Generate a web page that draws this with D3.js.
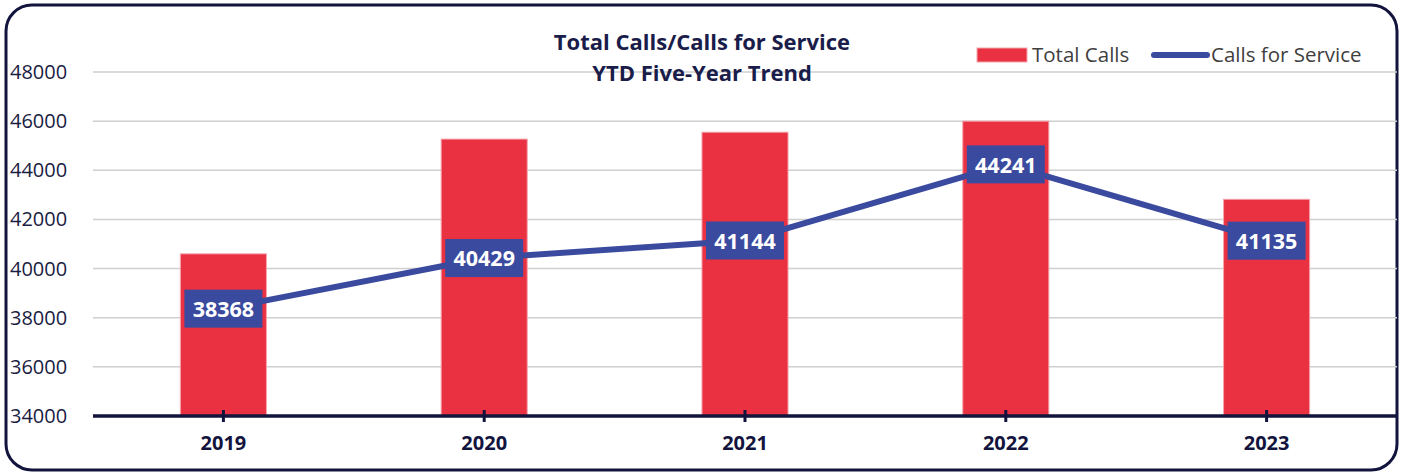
<!DOCTYPE html>
<html>
<head>
<meta charset="utf-8">
<script src="https://cdn.jsdelivr.net/npm/d3@7"></script>
<style>
    body { margin: 0; background: #fff; }
    svg { display: block; }
</style>
</head>
<body>
<div id="chart"></div>
<script>
// chart data
const years = ["2019", "2020", "2021", "2022", "2023"];
const totalCalls = [40600, 45270, 45550, 46000, 42820];
const callsForService = [38368, 40429, 41144, 44241, 41135];
const yTicks = [34000, 36000, 38000, 40000, 42000, 44000, 46000, 48000];

const width = 1403, height = 474;
const navy = "#12143d";
const red = "#e93142";
const blue = "#3a4a9e";

const svg = d3.select("#chart")
    .append("svg")
    .attr("width", width)
    .attr("height", height);

// frame
svg.append("rect")
    .attr("x", 6)
    .attr("y", 5)
    .attr("width", 1391)
    .attr("height", 465)
    .attr("rx", 26)
    .attr("fill", "#fff")
    .attr("stroke", navy)
    .attr("stroke-width", 3);

const x = d3.scaleBand()
    .domain(years)
    .range([93, 1397])
    .paddingInner(0.67)
    .paddingOuter(0.335);

const y = d3.scaleLinear()
    .domain([34000, 48000])
    .range([416, 72]);

// gridlines
svg.append("g")
    .selectAll("line")
    .data(yTicks.slice(1))
    .join("line")
    .attr("x1", 93)
    .attr("x2", 1397)
    .attr("y1", d => y(d))
    .attr("y2", d => y(d))
    .attr("stroke", "#cfcfcf")
    .attr("stroke-width", 1.5);

// y labels
svg.append("g")
    .selectAll("text")
    .data(yTicks)
    .join("text")
    .attr("x", 10)
    .attr("y", d => y(d))
    .attr("dy", "0.35em")
    .style("font-family", "Open Sans")
    .style("font-size", "20px")
    .style("fill", "#1a1c42")
    .text(d => d);

// bars
svg.append("g")
    .selectAll("rect")
    .data(totalCalls)
    .join("rect")
    .attr("x", (d, i) => x(years[i]))
    .attr("width", x.bandwidth())
    .attr("y", d => y(d))
    .attr("height", d => y(34000) - y(d))
    .attr("fill", red)
    .attr("stroke", "#f4a5ad")
    .attr("stroke-width", 1);

// x axis
const xAxis = d3.axisBottom(x).tickSize(0).tickPadding(20);
const gx = svg.append("g")
    .attr("transform", `translate(0,${y(34000)})`)
    .call(xAxis);
gx.select(".domain")
    .attr("d", "M93,0H1397")
    .attr("stroke", navy)
    .attr("stroke-width", 3.5);
gx.selectAll(".tick text")
    .style("font-family", "Open Sans")
    .style("font-size", "20px")
    .style("font-weight", "bold")
    .style("fill", navy);
gx.selectAll(".tick")
    .append("line")
    .attr("y1", -6)
    .attr("y2", 6)
    .attr("stroke", navy)
    .attr("stroke-width", 3);

// line
const cx = d => x(d) + x.bandwidth() / 2;
const line = d3.line()
    .x((d, i) => cx(years[i]))
    .y(d => y(d));

svg.append("path")
    .datum(callsForService)
    .attr("d", line)
    .attr("fill", "none")
    .attr("stroke", blue)
    .attr("stroke-width", 6)
    .attr("stroke-linejoin", "round");

// value labels
const labels = svg.append("g")
    .selectAll("g")
    .data(callsForService)
    .join("g")
    .attr("transform", (d, i) => `translate(${cx(years[i])},${y(d)})`);
labels.append("rect")
    .attr("x", -39)
    .attr("y", -19)
    .attr("width", 78)
    .attr("height", 38)
    .attr("fill", blue);
labels.append("text")
    .attr("text-anchor", "middle")
    .attr("dy", "0.38em")
    .style("font-family", "Open Sans")
    .style("font-size", "21.5px")
    .style("font-weight", "bold")
    .style("fill", "#fff")
    .text(d => d);

// title
const title = svg.append("text")
    .attr("text-anchor", "middle")
    .style("font-family", "Open Sans")
    .style("font-size", "22px")
    .style("font-weight", "bold")
    .style("fill", "#1a1c4a");
title.append("tspan").attr("x", 702).attr("y", 50).text("Total Calls/Calls for Service");
title.append("tspan").attr("x", 702).attr("y", 81).text("YTD Five-Year Trend");

// legend
const legend = svg.append("g");
legend.append("rect")
    .attr("x", 977)
    .attr("y", 48)
    .attr("width", 50)
    .attr("height", 14)
    .attr("fill", red)
    .attr("stroke", "#f4a5ad");
legend.append("text")
    .attr("x", 1032)
    .attr("y", 55)
    .attr("dy", "0.35em")
    .style("font-family", "Open Sans")
    .style("font-size", "20.5px")
    .style("fill", "#404040")
    .text("Total Calls");
legend.append("line")
    .attr("x1", 1154)
    .attr("x2", 1207)
    .attr("y1", 55)
    .attr("y2", 55)
    .attr("stroke", blue)
    .attr("stroke-width", 6)
    .attr("stroke-linecap", "round");
legend.append("text")
    .attr("x", 1211)
    .attr("y", 55)
    .attr("dy", "0.35em")
    .style("font-family", "Open Sans")
    .style("font-size", "20.5px")
    .style("fill", "#404040")
    .text("Calls for Service");
</script>
</body>
</html>
